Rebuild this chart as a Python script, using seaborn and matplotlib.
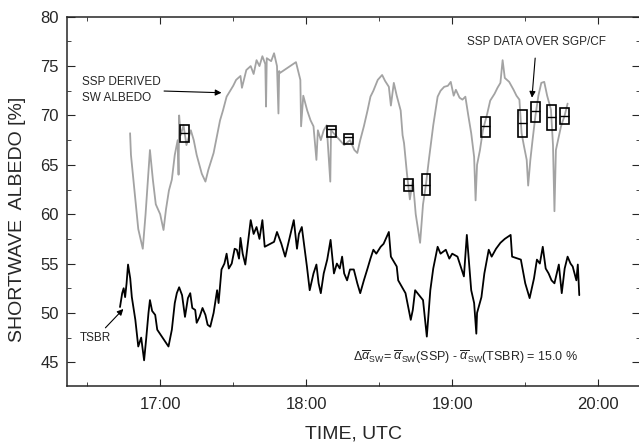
import seaborn as sns
import matplotlib.pyplot as plt
from matplotlib.ticker import MultipleLocator, FuncFormatter

# SSP derived SW albedo (grey), time in decimal hours UTC
ssp_time = [16.794, 16.80, 16.828, 16.85, 16.881, 16.90, 16.93, 16.95, 16.97, 17.00,
            17.023, 17.04, 17.06, 17.08, 17.10, 17.12, 17.126, 17.13, 17.14, 17.16,
            17.18, 17.21, 17.23, 17.25, 17.285, 17.31, 17.33, 17.366, 17.39, 17.41,
            17.43, 17.455, 17.48, 17.50, 17.52, 17.55, 17.56, 17.59, 17.62, 17.64,
            17.66, 17.68, 17.70, 17.72, 17.725, 17.73, 17.76, 17.78, 17.80, 17.81,
            17.815, 17.82, 17.93, 17.95, 17.96, 17.965, 17.98, 18.007, 18.03, 18.05,
            18.07, 18.08, 18.10, 18.12, 18.14, 18.165, 18.17, 18.20, 18.23, 18.26,
            18.30, 18.33, 18.35, 18.37, 18.395, 18.42, 18.44, 18.46, 18.49, 18.52,
            18.54, 18.566, 18.58, 18.60, 18.62, 18.647, 18.66, 18.67, 18.69, 18.71,
            18.73, 18.75, 18.78, 18.80, 18.82, 18.84, 18.87, 18.90, 18.92, 18.945,
            18.97, 18.99, 19.01, 19.025, 19.05, 19.07, 19.09, 19.11, 19.13, 19.15,
            19.16, 19.17, 19.19, 19.21, 19.24, 19.26, 19.29, 19.31, 19.33, 19.345,
            19.36, 19.39, 19.42, 19.44, 19.46, 19.475, 19.49, 19.51, 19.52, 19.535,
            19.55, 19.57, 19.59, 19.61, 19.63, 19.65, 19.676, 19.69, 19.70, 19.71,
            19.745, 19.77, 19.79]
ssp_alb = [68.2, 66.0, 61.8, 58.5, 56.5, 60.0, 66.5, 63.5, 61.0, 60.0,
           58.4, 60.5, 62.4, 63.5, 66.0, 67.5, 64.0, 70.0, 68.0, 69.0,
           67.0, 68.5, 67.5, 66.0, 64.1, 63.3, 64.5, 66.2, 68.0, 69.5,
           70.5, 71.9, 72.5, 73.0, 73.6, 74.0, 72.8, 74.6, 75.0, 74.2,
           75.6, 75.0, 76.0, 75.2, 70.9, 75.8, 75.5, 76.3, 75.0, 70.2,
           74.5, 74.3, 75.4, 74.2, 73.6, 68.9, 72.0, 70.5, 69.5, 68.9,
           65.5, 68.5, 67.5, 68.5, 69.0, 63.3, 68.5, 68.0, 67.5, 67.0,
           67.5, 66.5, 66.2, 67.5, 68.9, 70.5, 71.9, 72.5, 73.6, 74.1,
           73.5, 72.9, 71.0, 73.3, 72.0, 70.5, 68.0, 67.2, 64.1, 61.5,
           63.5, 60.0, 57.1, 61.0, 63.0, 65.5, 69.0, 71.9, 72.5, 72.9,
           73.0, 73.4, 72.0, 72.6, 71.8, 71.6, 71.9, 70.0, 68.2, 65.8,
           61.4, 65.0, 66.5, 68.5, 70.2, 71.5, 72.2, 72.8, 73.3, 75.6,
           73.8, 73.4, 72.6, 72.0, 71.6, 68.2, 67.0, 65.5, 62.9, 65.5,
           67.5, 70.0, 72.0, 73.3, 73.4, 72.0, 70.6, 67.0, 60.3, 66.5,
           68.9, 70.0, 71.2]

# TSBR albedo (black)
tsbr_time = [16.725, 16.74, 16.75, 16.76, 16.77, 16.78, 16.795, 16.806, 16.83, 16.85,
             16.87, 16.89, 16.905, 16.92, 16.93, 16.945, 16.966, 16.98, 17.057, 17.08,
             17.10, 17.114, 17.13, 17.15, 17.17, 17.19, 17.206, 17.22, 17.24, 17.25,
             17.27, 17.29, 17.31, 17.325, 17.343, 17.366, 17.39, 17.40, 17.42, 17.44,
             17.455, 17.47, 17.49, 17.51, 17.525, 17.54, 17.55, 17.565, 17.583, 17.60,
             17.62, 17.64, 17.66, 17.68, 17.70, 17.716, 17.78, 17.80, 17.83, 17.856,
             17.915, 17.937, 17.95, 17.97, 18.005, 18.024, 18.05, 18.07, 18.085, 18.10,
             18.12, 18.144, 18.167, 18.19, 18.21, 18.23, 18.246, 18.26, 18.28, 18.30,
             18.326, 18.35, 18.37, 18.395, 18.42, 18.44, 18.46, 18.48, 18.51, 18.53,
             18.566, 18.58, 18.62, 18.63, 18.68, 18.70, 18.716, 18.73, 18.746, 18.80,
             18.826, 18.85, 18.87, 18.90, 18.92, 18.956, 18.98, 19.00, 19.036, 19.08,
             19.10, 19.13, 19.15, 19.165, 19.17, 19.20, 19.22, 19.25, 19.27, 19.30,
             19.33, 19.36, 19.40, 19.41, 19.47, 19.50, 19.53, 19.56, 19.58, 19.60,
             19.62, 19.64, 19.66, 19.68, 19.70, 19.73, 19.75, 19.77, 19.79, 19.81,
             19.825, 19.85, 19.86, 19.87]
tsbr_alb = [50.6, 52.0, 52.5, 51.6, 53.0, 54.9, 53.5, 51.6, 49.3, 46.6,
            47.5, 45.2, 47.5, 50.0, 51.3, 50.2, 49.8, 48.3, 46.6, 48.3,
            51.0, 52.0, 52.6, 51.8, 49.6, 51.5, 52.0, 50.5, 50.3, 49.0,
            49.6, 50.5, 49.8, 48.8, 48.6, 50.0, 52.3, 51.0, 54.4, 55.0,
            56.0, 54.5, 55.0, 56.5, 56.4, 55.5, 57.6, 56.0, 54.9, 57.0,
            59.4, 58.0, 58.7, 57.5, 59.4, 56.7, 57.2, 58.2, 57.0, 55.7,
            59.4, 56.5, 58.0, 58.7, 54.7, 52.3, 54.0, 54.9, 53.0, 52.0,
            54.0, 55.4, 57.4, 54.0, 55.0, 54.5, 55.7, 54.0, 53.3, 54.4,
            54.4, 53.0, 52.0, 53.3, 54.5, 55.5, 56.4, 56.0, 56.7, 57.0,
            58.2, 55.7, 54.7, 53.3, 52.0, 50.5, 49.3, 50.3, 52.3, 51.3,
            47.6, 52.3, 54.5, 56.7, 56.0, 56.4, 55.5, 56.0, 55.7, 53.7,
            57.9, 52.3, 51.0, 47.9, 50.0, 51.6, 54.0, 56.4, 55.7, 56.5,
            57.1, 57.5, 57.9, 55.7, 55.4, 53.0, 51.5, 53.5, 55.4, 55.0,
            56.7, 54.5, 54.0, 53.3, 53.0, 54.9, 52.0, 54.5, 55.7, 55.0,
            54.7, 53.3, 54.9, 51.8]

# SSP data over SGP/CF boxes
box_time = [17.168, 18.172, 18.288, 18.70, 18.82, 19.23, 19.483, 19.57, 19.68, 19.768]
box_lo = [67.3, 67.8, 67.1, 62.3, 61.9, 67.8, 67.8, 69.3, 68.5, 69.1]
box_hi = [69.0, 68.9, 68.1, 63.6, 64.1, 69.8, 70.6, 71.4, 71.1, 70.8]
box_mid = [68.2, 68.6, 67.8, 63.0, 63.0, 68.9, 69.2, 70.5, 69.8, 69.9]

sns.set_style("ticks")
plt.rcParams['font.family'] = ['Liberation Sans', 'DejaVu Sans']
plt.rcParams['mathtext.fontset'] = 'custom'
plt.rcParams['mathtext.rm'] = 'Liberation Sans'
plt.rcParams['mathtext.it'] = 'Liberation Sans:italic'

fig = plt.figure(figsize=(6.39, 4.48), dpi=100)
ax = fig.add_axes([0.1053, 0.1384, 0.8963, 0.8243])

sns.lineplot(x=ssp_time, y=ssp_alb, ax=ax, color='#a3a3a3', lw=1.3, sort=False, estimator=None)
sns.lineplot(x=tsbr_time, y=tsbr_alb, ax=ax, color='black', lw=1.3, sort=False, estimator=None)

heights = [h - l for h, l in zip(box_hi, box_lo)]
ax.bar(box_time, heights, bottom=box_lo, width=0.06, fill=False, edgecolor='black', lw=1.2, zorder=5)
ax.hlines(box_mid, [t - 0.03 for t in box_time], [t + 0.03 for t in box_time], color='black', lw=1.0, zorder=5)

ax.set_xlim(16.364, 20.286)
ax.set_ylim(42.6, 80)
ax.xaxis.set_major_locator(MultipleLocator(1))
ax.xaxis.set_minor_locator(MultipleLocator(0.5))
ax.yaxis.set_major_locator(MultipleLocator(5))
ax.yaxis.set_minor_locator(MultipleLocator(2.5))
ax.xaxis.set_major_formatter(FuncFormatter(lambda x, p: f"{int(x)}:{int(round((x % 1) * 60)):02d}"))
ax.tick_params(which='both', direction='in', top=True, right=True, labelsize=12)
ax.tick_params(axis='y', which='major', length=6, pad=6)
ax.tick_params(axis='y', which='minor', length=3)
ax.tick_params(axis='x', which='major', length=5, pad=8)
ax.tick_params(axis='x', which='minor', length=3)
for s in ax.spines.values():
    s.set_linewidth(1.1)

ax.set_xlabel("TIME, UTC", fontsize=14, labelpad=10)
ax.set_ylabel("SHORTWAVE  ALBEDO [%]", fontsize=14)
ax.yaxis.set_label_coords(-0.072, 0.45)

ax.annotate("SSP DERIVED\nSW ALBEDO", xy=(17.42, 72.3), xytext=(16.465, 72.6),
            fontsize=8.5, ha='left', va='center', linespacing=1.5,
            arrowprops=dict(arrowstyle='-|>', color='black', lw=0.8, shrinkA=0, shrinkB=0,
                            mutation_scale=9),
            annotation_clip=False)
ax.annotate("SSP DATA OVER SGP/CF", xy=(19.546, 71.8), xytext=(19.577, 77.45),
            fontsize=8.5, ha='center', va='center',
            arrowprops=dict(arrowstyle='-|>', color='black', lw=0.8, shrinkA=5, shrinkB=0,
                            mutation_scale=9))
ax.annotate("TSBR", xy=(16.748, 50.4), xytext=(16.451, 47.45),
            fontsize=8.5, ha='left', va='center',
            arrowprops=dict(arrowstyle='-|>', color='black', lw=0.8, shrinkA=1, shrinkB=0,
                            mutation_scale=9))
ax.text(18.318, 45.5,
        r'$\Delta\overline{\alpha}_{\mathrm{SW}}$= $\overline{\alpha}_{\mathrm{SW}}$(SSP) - '
        r'$\overline{\alpha}_{\mathrm{SW}}$(TSBR) = 15.0 %',
        fontsize=9, ha='left', va='center')

plt.savefig('out.png', dpi=100)
